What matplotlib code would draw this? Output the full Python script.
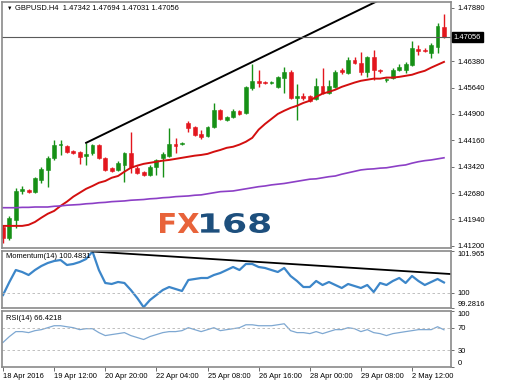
import numpy as np
import matplotlib
matplotlib.use('Agg')
import matplotlib.pyplot as plt
from matplotlib.textpath import TextPath
from matplotlib.patches import PathPatch
from matplotlib.font_manager import FontProperties
from matplotlib.transforms import Affine2D, blended_transform_factory

plt.rcParams['font.family'] = ['Liberation Sans', 'DejaVu Sans']

# GBPUSD H4 candles
opens = [1.4173, 1.4142, 1.4193, 1.4274, 1.4277, 1.4272, 1.4305, 1.4333, 1.4367, 1.4404,
         1.4401, 1.4387, 1.4384, 1.4373, 1.4381, 1.4404, 1.4367, 1.4339, 1.4333, 1.4347,
         1.4381, 1.4339, 1.4328, 1.4319, 1.4342, 1.4367, 1.4373, 1.4406, 1.4406, 1.4465,
         1.4454, 1.4434, 1.4429, 1.4454, 1.4502, 1.4474, 1.4482, 1.4499, 1.4493, 1.4563,
         1.4583, 1.4580, 1.4578, 1.4566, 1.4592, 1.4608, 1.4535, 1.4541, 1.4541, 1.4533,
         1.4569, 1.4549, 1.4566, 1.4614, 1.4606, 1.4642, 1.4634, 1.4608, 1.4650, 1.4614,
         1.4586, 1.4592, 1.4614, 1.4614, 1.4628, 1.4673, 1.4670, 1.4662, 1.4679, 1.47342]
highs = [1.4179, 1.4204, 1.4283, 1.4288, 1.4280, 1.4314, 1.4342, 1.4373, 1.4418, 1.4418,
         1.4404, 1.4389, 1.4387, 1.4409, 1.4406, 1.4406, 1.4370, 1.4342, 1.4359, 1.4384,
         1.4440, 1.4345, 1.4330, 1.4347, 1.4364, 1.4384, 1.4451, 1.4423, 1.4412, 1.4471,
         1.4457, 1.4446, 1.4457, 1.4521, 1.4505, 1.4485, 1.4505, 1.4502, 1.4569, 1.4631,
         1.4614, 1.4583, 1.4583, 1.4597, 1.4622, 1.4614, 1.4575, 1.4549, 1.4544, 1.4592,
         1.4620, 1.4586, 1.4614, 1.4620, 1.4650, 1.4650, 1.4665, 1.4653, 1.4670, 1.4617,
         1.4592, 1.4620, 1.4631, 1.4636, 1.4695, 1.4684, 1.4676, 1.4690, 1.4746, 1.47694]
lows = [1.4128, 1.4137, 1.4171, 1.4266, 1.4269, 1.4269, 1.4297, 1.4286, 1.4361, 1.4375,
        1.4381, 1.4378, 1.4350, 1.4347, 1.4375, 1.4364, 1.4330, 1.4328, 1.4330, 1.4300,
        1.4325, 1.4322, 1.4316, 1.4316, 1.4319, 1.4314, 1.4370, 1.4381, 1.4404, 1.4440,
        1.4429, 1.4420, 1.4426, 1.4451, 1.4474, 1.4471, 1.4479, 1.4488, 1.4490, 1.4558,
        1.4566, 1.4575, 1.4575, 1.4563, 1.4549, 1.4533, 1.4474, 1.4530, 1.4524, 1.4530,
        1.4547, 1.4547, 1.4563, 1.4603, 1.4603, 1.4631, 1.4600, 1.4594, 1.4586, 1.4606,
        1.4580, 1.4589, 1.4611, 1.4606, 1.4625, 1.4656, 1.4665, 1.4648, 1.4662, 1.47031]
closes = [1.4142, 1.4199, 1.4274, 1.4280, 1.4272, 1.4311, 1.4336, 1.4367, 1.4404, 1.4406,
          1.4384, 1.4381, 1.4370, 1.4378, 1.4404, 1.4367, 1.4333, 1.4330, 1.4353, 1.4381,
          1.4342, 1.4325, 1.4319, 1.4342, 1.4361, 1.4378, 1.4406, 1.4401, 1.4409, 1.4451,
          1.4432, 1.4426, 1.4454, 1.4502, 1.4476, 1.4482, 1.4499, 1.4490, 1.4566, 1.4583,
          1.4578, 1.4578, 1.4580, 1.4594, 1.4608, 1.4535, 1.4541, 1.4535, 1.4527, 1.4569,
          1.4549, 1.4569, 1.4608, 1.4608, 1.4642, 1.4634, 1.4608, 1.4650, 1.4614, 1.4611,
          1.4589, 1.4614, 1.4622, 1.4631, 1.4676, 1.4667, 1.4667, 1.4684, 1.4738, 1.47056]

# moving averages
ma_fast = [1.4176, 1.4176, 1.4176, 1.4176, 1.4179, 1.4187, 1.4199, 1.4210, 1.4218, 1.4232,
           1.4244, 1.4258, 1.4269, 1.4280, 1.4288, 1.4297, 1.4302, 1.4311, 1.4316, 1.4328,
           1.4339, 1.4345, 1.4350, 1.4353, 1.4356, 1.4359, 1.4361, 1.4364, 1.4367, 1.4370,
           1.4373, 1.4375, 1.4378, 1.4384, 1.4389, 1.4395, 1.4398, 1.4404, 1.4412, 1.4423,
           1.4446, 1.4462, 1.4476, 1.4490, 1.4499, 1.4507, 1.4513, 1.4521, 1.4527, 1.4538,
           1.4547, 1.4552, 1.4558, 1.4566, 1.4572, 1.4578, 1.4583, 1.4586, 1.4589, 1.4589,
           1.4592, 1.4592, 1.4594, 1.4597, 1.4600, 1.4606, 1.4611, 1.4620, 1.4628, 1.4636]
ma_slow = [1.4227, 1.4227, 1.4227, 1.4228, 1.4228, 1.4229, 1.4229, 1.4229, 1.4231, 1.4232,
           1.4234, 1.4235, 1.4236, 1.4238, 1.4239, 1.4241, 1.4242, 1.4244, 1.4245, 1.4246,
           1.4248, 1.4249, 1.4250, 1.4252, 1.4253, 1.4255, 1.4256, 1.4258, 1.4259, 1.4260,
           1.4262, 1.4263, 1.4266, 1.4269, 1.4272, 1.4273, 1.4274, 1.4277, 1.4280, 1.4283,
           1.4286, 1.4288, 1.4291, 1.4293, 1.4295, 1.4298, 1.4301, 1.4304, 1.4307, 1.4308,
           1.4311, 1.4314, 1.4316, 1.4321, 1.4325, 1.4329, 1.4333, 1.4335, 1.4336, 1.4338,
           1.4339, 1.4342, 1.4345, 1.4347, 1.4352, 1.4356, 1.4359, 1.4361, 1.4364, 1.4367]

# Momentum(14) and RSI(14)
momentum = [99.893, 100.506, 101.070, 100.976, 100.835, 101.070, 101.259, 101.400, 101.494, 101.541,
            101.306, 101.353, 101.447, 101.588, 101.940, 101.070, 100.459, 100.412, 100.506, 100.459,
            100.129, 99.752, 99.320, 99.658, 99.893, 100.129, 100.270, 100.176, 100.082, 100.600,
            100.647, 100.694, 100.694, 100.835, 100.929, 101.070, 101.212, 101.070, 101.353, 101.353,
            101.212, 101.165, 101.070, 100.976, 101.165, 100.788, 100.553, 100.270, 100.270, 100.553,
            100.364, 100.506, 100.364, 100.223, 100.412, 100.317, 100.223, 100.364, 100.035, 100.459,
            100.364, 100.553, 100.694, 100.459, 100.788, 100.553, 100.364, 100.506, 100.647, 100.4831]
rsi = [43.9, 54.4, 63.2, 63.2, 61.4, 64.9, 66.7, 70.2, 73.7, 73.7,
       71.9, 70.2, 66.7, 68.4, 68.4, 61.4, 56.1, 57.9, 59.6, 61.4,
       56.1, 52.6, 49.1, 54.4, 57.9, 61.4, 63.2, 63.2, 64.9, 70.2,
       66.7, 63.2, 66.7, 70.2, 64.9, 66.7, 68.4, 70.2, 75.4, 75.4,
       73.7, 73.7, 73.7, 75.4, 77.2, 64.9, 61.4, 61.4, 59.6, 63.2,
       59.6, 63.2, 66.7, 66.7, 70.2, 68.4, 63.2, 66.7, 61.4, 59.6,
       56.1, 59.6, 61.4, 63.2, 64.9, 66.7, 66.7, 66.7, 71.9, 66.4218]

# trend lines drawn on the chart
trend_price_bars = [13, 60]
trend_price_vals = [1.4409, 1.4819]
trend_mom_bars = [14, 70.1]
trend_mom_vals = [101.94, 100.88]

price_ticks = [1.41200, 1.41940, 1.42680, 1.43420, 1.44160, 1.44900, 1.45640, 1.46380, 1.47880]
time_ticks = [0, 8, 16, 24, 32, 40, 48, 56, 64]
time_labels = ['18 Apr 2016', '19 Apr 12:00', '20 Apr 20:00', '22 Apr 04:00', '25 Apr 08:00',
               '26 Apr 16:00', '28 Apr 00:00', '29 Apr 08:00', '2 May 12:00']

W, H = 520, 384
fs = 5.4
frame = '#8a8a8a'

fig = plt.figure(figsize=(W / 100, H / 100), dpi=100)


def box(top, bottom):
    return [2 / W, 1 - bottom / H, 449 / W, (bottom - top) / H]


ax = fig.add_axes(box(2, 248))
axm = fig.add_axes(box(251, 308))
axr = fig.add_axes(box(311, 367))

x = np.arange(len(opens))
o = np.array(opens)
c = np.array(closes)
up = c >= o
cols = np.where(up, '#169016', '#e3161e')

for a in (ax, axm, axr):
    a.set_xlim(-0.16, 70.1)
    a.yaxis.tick_right()
    a.tick_params(axis='y', direction='out', length=2.5, width=0.6, color='#555555',
                  labelsize=fs, pad=2)
    for s in a.spines.values():
        s.set_color(frame)
        s.set_linewidth(1.2)

# price panel
ax.vlines(x, lows, highs, colors=cols, lw=1)
ax.bar(x, np.maximum(np.abs(c - o), 0.00008), bottom=np.minimum(o, c), width=0.6,
       color=cols, edgecolor=cols, lw=0.4)
ax.plot(x, ma_fast, color='#d30f0f', lw=1.4)
ax.plot(x, ma_slow, color='#8c3fc6', lw=1.2)
ax.plot(trend_price_bars, trend_price_vals, color='black', lw=1.4)
ax.axhline(closes[-1], color='#5a5a5a', lw=0.8)
ax.set_ylim(1.4114, 1.4804)
ax.set_yticks(price_ticks)
ax.set_yticklabels(['%.5f' % v for v in price_ticks])
ax.set_xticks([])
trans = blended_transform_factory(ax.transAxes, ax.transData)
ax.text(1.006, closes[-1], '%.5f' % closes[-1], transform=trans, color='white', fontsize=fs,
        va='center', ha='left', bbox=dict(boxstyle='square,pad=0.2', fc='black', ec='black'))

# momentum panel
axm.plot(x, momentum, color='#3c86c9', lw=1.6)
axm.axhline(100, color='#b5b5b5', lw=0.6, ls=(0, (3, 3)))
axm.plot(trend_mom_bars, trend_mom_vals, color='black', lw=1.3)
axm.set_ylim(99.2816, 101.965)
axm.set_yticks([99.2816, 100, 101.965])
axm.set_yticklabels(['99.2816', '100', '101.965'])
lbl = axm.get_yticklabels()
lbl[0].set_va('bottom')
lbl[2].set_va('top')
axm.set_xticks([])

# RSI panel
axr.plot(x, rsi, color='#7ea8d2', lw=0.9)
for lev in (70, 30):
    axr.axhline(lev, color='#b5b5b5', lw=0.6, ls=(0, (3, 3)))
axr.set_ylim(0, 100)
axr.set_yticks([0, 30, 70, 100])
axr.set_yticklabels(['0', '30', '70', '100'])
lbl = axr.get_yticklabels()
lbl[0].set_va('bottom')
lbl[3].set_va('top')
axr.set_xticks(time_ticks)
axr.set_xticklabels(time_labels, ha='left')
axr.tick_params(axis='x', direction='out', length=3, width=0.6, color='#555555',
                labelsize=fs, pad=1.5)

# labels
fig.text(7 / W, 1 - 8 / H, '\u25bc', fontsize=4, va='center', ha='left')
fig.text(15 / W, 1 - 8 / H, 'GBPUSD.H4  1.47342 1.47694 1.47031 1.47056', fontsize=fs,
         va='center', ha='left')
fig.text(6 / W, 1 - 257 / H, 'Momentum(14) 100.4831', fontsize=fs, va='center', ha='left')
fig.text(6 / W, 1 - 318 / H, 'RSI(14) 66.4218', fontsize=fs, va='center', ha='left')

# FX168 watermark
fp = FontProperties(family='DejaVu Sans', weight='bold')
for txt, left, right, col in (('FX', 160, 199, '#e8633a'), ('168', 201, 270, '#1d4f7d')):
    tp = TextPath((0, 0), txt, size=1, prop=fp)
    ext = tp.get_extents()
    tr = Affine2D().translate(-ext.x0, -ext.y0).scale((right - left) / ext.width,
                                                      20 / ext.height).translate(left, H - 233)
    fig.add_artist(PathPatch(tp, transform=tr, fc=col, ec='none'))

fig.savefig('out.png', dpi=100)
